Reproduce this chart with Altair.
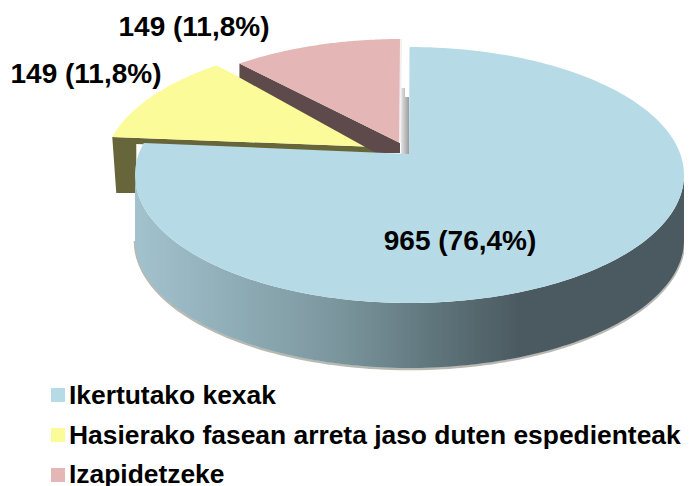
import numpy as np
import pandas as pd
import altair as alt

# ---- data
categories = ["Ikertutako kexak", "Hasierako fasean arreta jaso duten espedienteak", "Izapidetzeke"]
values = [965, 149, 149]
labels = ["965 (76,4%)", "149 (11,8%)", "149 (11,8%)"]
colors = ["#b7dbe6", "#fbfb99", "#e5b6b6"]

# ---- 3D view of the pie (page pixels)
RX, RY, DEPTH = 274.5, 128, 65
W, H = 676, 478
FONT = "Liberation Sans"

shares = np.cumsum([0] + values) / sum(values) * 2 * np.pi
# perspective foreshortening of the true angle
bounds = shares - np.radians(9.5) * np.sin(shares)


def rim(cx, cy, a, b, n=90):
    t = np.linspace(a, b, n)
    return cx + RX * np.sin(t), cy - RY * np.cos(t)


def poly(xs, ys, closed=True):
    xs, ys = list(xs), list(ys)
    if closed:
        xs.append(xs[0])
        ys.append(ys[0])
    return pd.DataFrame({"x": xs, "y": ys, "i": range(len(xs))})


xs = alt.Scale(domain=[8, 8 + W], range=[0, W], nice=False, zero=False)
ys = alt.Scale(domain=[8, 8 + H], range=[0, H], nice=False, zero=False)
X = alt.X("x:Q", scale=xs, axis=None)
Y = alt.Y("y:Q", scale=ys, axis=None)


def shape(df, fill, **kw):
    return alt.Chart(df).mark_line(fill=fill, stroke="transparent", strokeWidth=0, clip=False, **kw).encode(
        x=X, y=Y, order="i:Q")


def edge(df, color, width, opacity=1.0):
    return alt.Chart(df).mark_line(color=color, strokeWidth=width, opacity=opacity).encode(
        x=X, y=Y, order="i:Q")


# main slice
mcx, mcy = 409.5, 175
apex = (409, 154)
mx, my = rim(mcx, mcy, bounds[0], bounds[1], 200)
top_main = poly([apex[0], *mx], [apex[1], *my])

fx, fy = rim(mcx, mcy, np.pi / 2, 3 * np.pi / 2 + 0.0, 120)
wall_x = [*fx, *fx[::-1]]
wall_y = [*fy, *(fy[::-1] + DEPTH)]
wall_main = poly(wall_x, wall_y)
wall_grad = alt.LinearGradient(
    gradient="linear", x1=1, x2=0, y1=0, y2=0,
    stops=[
        alt.GradientStop(offset=0, color="#4b5a60"),
        alt.GradientStop(offset=0.30, color="#4b5a60"),
        alt.GradientStop(offset=0.46, color="#60767d"),
        alt.GradientStop(offset=0.62, color="#7a949c"),
        alt.GradientStop(offset=0.82, color="#8fadb7"),
        alt.GradientStop(offset=1, color="#a2c2cd"),
    ],
)
shadow = poly(fx, fy + DEPTH + 1, closed=False)

# yellow slice
ycx, ycy = 378, 169
yellow_apex = (377, 147)
yx, yy = rim(ycx, ycy, bounds[1], bounds[2])
top_yellow = poly([yellow_apex[0], *yx], [yellow_apex[1], *yy])
wall_yellow = poly(
    [yx[0], yellow_apex[0], yellow_apex[0], yx[0] + 24, yx[0] + 24, yx[0] + 4],
    [yy[0], yellow_apex[1], yellow_apex[1] + 7, yy[0] + 7, yy[0] + 56, yy[0] + 56],
)

# pink slice
pcx, pcy = 401, 167
pink_apex = (400, 143)
px, py = rim(pcx, pcy, bounds[2], bounds[3])
top_pink = poly([pink_apex[0], *px], [pink_apex[1], *py])
wall_pink = poly(
    [px[0], px[0], pink_apex[0] - 24, pink_apex[0], pink_apex[0]],
    [py[0], py[0] + 14, pink_apex[1] + 10, pink_apex[1] + 10, pink_apex[1]],
)
pink_edge = poly([px[-1], pink_apex[0]], [py[-1], pink_apex[1]], closed=False)

grey = alt.LinearGradient(
    gradient="linear", x1=0, x2=1, y1=0, y2=0,
    stops=[alt.GradientStop(offset=0, color="#e4e4e4"), alt.GradientStop(offset=1, color="#9c9c9c")],
)
wall_grey = poly(
    [pink_apex[0] + 1, pink_apex[0] + 5, pink_apex[0] + 5, pink_apex[0] + 9, pink_apex[0] + 9, pink_apex[0] + 1],
    [88, 88, 97, 97, 154, 154],
)

# slice labels
label_df = pd.DataFrame({
    "x": [460, 86, 194],
    "y": [242, 75, 28],
    "t": labels,
})
label_layer = alt.Chart(label_df).mark_text(
    font=FONT, fontWeight="bold", fontSize=28, color="#000000", align="center", baseline="middle"
).encode(x=X, y=Y, text="t:N")

# legend
legend_df = pd.DataFrame({
    "x": [69, 69, 69],
    "y": [404, 444, 483],
    "sy": [395, 435, 475],
    "sx": [58, 58, 58],
    "t": categories,
    "c": colors,
})
legend_text = alt.Chart(legend_df).mark_text(
    font=FONT, fontWeight="bold", fontSize=26.4, color="#000000", align="left", baseline="alphabetic"
).encode(x=X, y=Y, text="t:N")
legend_marks = alt.Chart(legend_df).mark_square(size=196, opacity=1).encode(
    x=alt.X("sx:Q", scale=xs, axis=None), y=alt.Y("sy:Q", scale=ys, axis=None),
    fill=alt.Fill("c:N", scale=None), stroke=alt.value("transparent"))

chart = alt.layer(
    shape(wall_yellow, "#66663a"),
    shape(top_yellow, colors[1]),
    shape(wall_grey, grey),
    shape(wall_pink, "#5e4a4a"),
    shape(top_pink, colors[2]),
    edge(pink_edge, "#f4f0f0", 2),
    edge(shadow, "#8a8a80", 2.5, 0.6),
    shape(wall_main, wall_grad),
    shape(top_main, colors[0]),
    label_layer,
    legend_marks,
    legend_text,
).properties(
    width=W, height=H,
    padding=0,
    autosize=alt.AutoSizeParams(type="none"),
).configure_view(stroke=None)

chart.save("out.html", embed_options={"renderer": "svg", "actions": False})
